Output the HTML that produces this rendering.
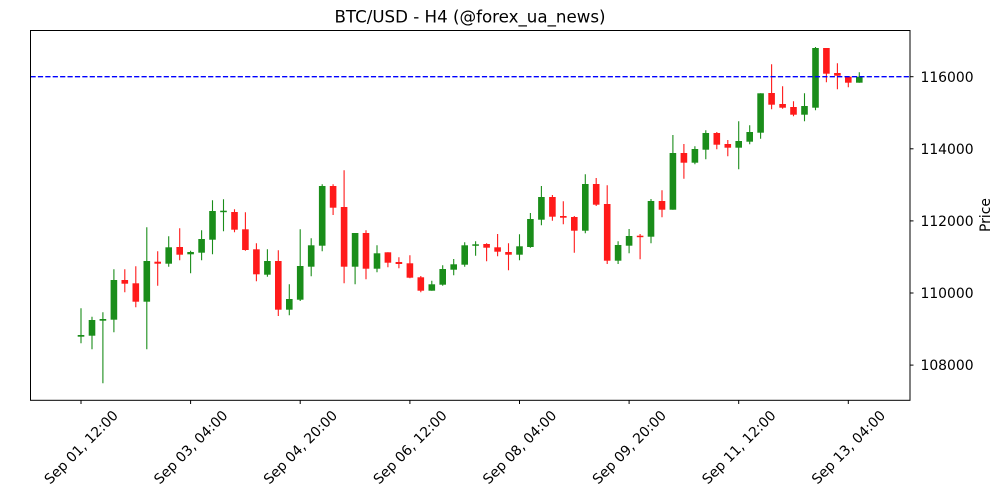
<!DOCTYPE html>
<html><head><meta charset="utf-8"><style>
html,body{margin:0;padding:0;background:#fff;}
svg{display:block;}
text{font-family:"DejaVu Sans","Liberation Sans",sans-serif;fill:#000;}
</style></head><body>
<svg width="1000" height="500" viewBox="0 0 1000 500" xmlns="http://www.w3.org/2000/svg">
<rect x="0" y="0" width="1000" height="500" fill="#fff"/>
<text x="470" y="22.5" font-size="16.67" text-anchor="middle">BTC/USD - H4 (@forex_ua_news)</text>

<!-- wicks green -->
<path stroke="#1a8d1a" stroke-width="1.1" fill="none" d="
M81.0 308.3V343.3 M92.0 316.7V349.3 M102.9 312.3V383.3 M113.9 269.3V332.3
M146.8 227.3V349.3 M168.7 236.3V266.7 M190.6 250.7V273.3 M201.6 230.3V260.3
M212.5 200.3V254.3 M223.5 199.3V231.3 M267.4 249.3V276.7 M289.3 284.3V315.3
M300.2 229.3V301 M311.2 238.3V276.3 M322.2 184.3V251.3 M355.1 233V284.3
M377.0 245.3V272.3 M431.8 280.7V290.7 M442.7 265.3V285.7 M453.7 259V275.3
M464.7 242.3V266.7 M475.6 241.3V255.7 M519.5 234.3V260.3 M530.4 213V247.7
M541.4 186V225.3 M585.3 174.3V233.3 M618.1 241.3V264 M629.1 229V253.3
M651.0 199V243.3 M672.9 135V209.7 M694.9 146.3V164.3 M705.8 130.3V159.3
M738.7 121.3V169.3 M749.7 125.3V144.3 M760.6 93.3V138.7 M804.5 93.3V121.3
M815.5 47V110.3 M859.3 72.3V82.7"/>
<!-- wicks red -->
<path stroke="#ff1a1a" stroke-width="1.1" fill="none" d="
M124.8 269.3V292.3 M135.8 266.3V307.3 M157.7 251.3V285.7 M179.7 228.3V260.3
M234.5 209.3V232.3 M245.4 212.3V250.7 M256.4 243.3V281.3 M278.3 250.3V316
M333.1 184.3V215 M344.1 170.3V283.3 M366.0 230.3V279.3 M387.9 252.3V267.3
M398.9 257.3V268.3 M409.9 255.3V278.3 M420.8 276V292.3 M486.6 243.3V261.3
M497.6 234V256.3 M508.5 243.3V270.3 M552.4 195V220.7 M563.3 201.3V224.3
M574.3 216V252.7 M596.2 178V206 M607.2 185.3V264 M640.1 234V259.3
M662.0 190.3V217.3 M683.9 144V178.7 M716.8 132V149.3 M727.8 140V156.3
M771.6 64.3V109.3 M782.6 86.3V108.7 M793.5 101.3V116.3 M826.4 48V82.3
M837.4 63.3V89.3 M848.3 76.7V87.3"/>

<!-- bodies green -->
<g fill="#1a8d1a">
<rect x="77.7" y="335" width="6.6" height="1.7"/>
<rect x="88.7" y="320" width="6.6" height="15.7"/>
<rect x="99.6" y="319" width="6.6" height="1.7"/>
<rect x="110.6" y="280" width="6.6" height="39.7"/>
<rect x="143.5" y="261" width="6.6" height="40.7"/>
<rect x="165.4" y="247.3" width="6.6" height="16.4"/>
<rect x="187.3" y="252" width="6.6" height="2.3"/>
<rect x="198.3" y="239" width="6.6" height="13.7"/>
<rect x="209.2" y="211" width="6.6" height="28.7"/>
<rect x="220.2" y="210.7" width="6.6" height="1.5"/>
<rect x="264.1" y="261" width="6.6" height="13.7"/>
<rect x="286.0" y="299" width="6.6" height="10.7"/>
<rect x="296.9" y="266" width="6.6" height="33.7"/>
<rect x="307.9" y="245.3" width="6.6" height="21.4"/>
<rect x="318.9" y="186" width="6.6" height="59.7"/>
<rect x="351.8" y="233" width="6.6" height="33.7"/>
<rect x="373.7" y="253.3" width="6.6" height="15.4"/>
<rect x="428.5" y="284.3" width="6.6" height="6.4"/>
<rect x="439.4" y="269" width="6.6" height="15.7"/>
<rect x="450.4" y="264.3" width="6.6" height="5.4"/>
<rect x="461.4" y="245.3" width="6.6" height="19.4"/>
<rect x="472.3" y="244.3" width="6.6" height="1.5"/>
<rect x="516.2" y="246.3" width="6.6" height="8.4"/>
<rect x="527.1" y="219" width="6.6" height="28"/>
<rect x="538.1" y="197" width="6.6" height="22.7"/>
<rect x="582.0" y="184" width="6.6" height="46.7"/>
<rect x="614.8" y="245" width="6.6" height="15.7"/>
<rect x="625.8" y="236" width="6.6" height="9.7"/>
<rect x="647.7" y="201" width="6.6" height="35.7"/>
<rect x="669.6" y="153" width="6.6" height="56.7"/>
<rect x="691.6" y="149" width="6.6" height="13.7"/>
<rect x="702.5" y="133" width="6.6" height="16.7"/>
<rect x="735.4" y="141" width="6.6" height="6.7"/>
<rect x="746.4" y="132" width="6.6" height="9.7"/>
<rect x="757.3" y="93.3" width="6.6" height="39.4"/>
<rect x="801.2" y="106" width="6.6" height="8.7"/>
<rect x="812.2" y="48" width="6.6" height="59.7"/>
<rect x="856.0" y="76.7" width="6.6" height="6"/>
</g>
<!-- bodies red -->
<g fill="#ff1a1a">
<rect x="121.5" y="280" width="6.6" height="3.7"/>
<rect x="132.5" y="283.3" width="6.6" height="18.4"/>
<rect x="154.4" y="261.7" width="6.6" height="2"/>
<rect x="176.4" y="247" width="6.6" height="7.7"/>
<rect x="231.2" y="212" width="6.6" height="17.7"/>
<rect x="242.1" y="229.3" width="6.6" height="20.7"/>
<rect x="253.1" y="249.3" width="6.6" height="25"/>
<rect x="275.0" y="261" width="6.6" height="48.7"/>
<rect x="329.8" y="186" width="6.6" height="21.7"/>
<rect x="340.8" y="207" width="6.6" height="59.7"/>
<rect x="362.7" y="233" width="6.6" height="35.7"/>
<rect x="384.6" y="252.3" width="6.6" height="10.4"/>
<rect x="395.6" y="262" width="6.6" height="2"/>
<rect x="406.6" y="263.3" width="6.6" height="14.4"/>
<rect x="417.5" y="277.3" width="6.6" height="13.4"/>
<rect x="483.3" y="244" width="6.6" height="3.7"/>
<rect x="494.3" y="247.3" width="6.6" height="4.4"/>
<rect x="505.2" y="252" width="6.6" height="2.7"/>
<rect x="549.1" y="197" width="6.6" height="19.7"/>
<rect x="560.0" y="216" width="6.6" height="1.7"/>
<rect x="571.0" y="217" width="6.6" height="13.7"/>
<rect x="592.9" y="184" width="6.6" height="20.7"/>
<rect x="603.9" y="204" width="6.6" height="56.7"/>
<rect x="636.8" y="235.7" width="6.6" height="1.5"/>
<rect x="658.7" y="201" width="6.6" height="8.7"/>
<rect x="680.6" y="153" width="6.6" height="9.7"/>
<rect x="713.5" y="133" width="6.6" height="11.7"/>
<rect x="724.5" y="144" width="6.6" height="3.7"/>
<rect x="768.3" y="93" width="6.6" height="11.7"/>
<rect x="779.3" y="104" width="6.6" height="3.7"/>
<rect x="790.2" y="107" width="6.6" height="7.7"/>
<rect x="823.1" y="48" width="6.6" height="25.7"/>
<rect x="834.1" y="73" width="6.6" height="2.7"/>
<rect x="845.0" y="76.7" width="6.6" height="6"/>
</g>

<!-- dashed line -->
<line x1="30.5" y1="76.7" x2="910" y2="76.7" stroke="#0000ff" stroke-width="1.4" stroke-dasharray="5.2,2.2"/>

<!-- axes frame -->
<rect x="30.5" y="30.5" width="879.5" height="369.8" fill="none" stroke="#000" stroke-width="1"/>

<!-- y ticks -->
<g stroke="#000" stroke-width="1">
<line x1="910" y1="76.7" x2="913.5" y2="76.7"/>
<line x1="910" y1="148.8" x2="913.5" y2="148.8"/>
<line x1="910" y1="220.9" x2="913.5" y2="220.9"/>
<line x1="910" y1="293" x2="913.5" y2="293"/>
<line x1="910" y1="365.1" x2="913.5" y2="365.1"/>
</g>
<g font-size="13.9">
<text x="920.5" y="81.8">116000</text>
<text x="920.5" y="153.9">114000</text>
<text x="920.5" y="226">112000</text>
<text x="920.5" y="298.1">110000</text>
<text x="920.5" y="370.2">108000</text>
</g>
<text x="990" y="215" font-size="13.9" text-anchor="middle" transform="rotate(-90 990 215)">Price</text>

<!-- x ticks -->
<g stroke="#000" stroke-width="1">
<line x1="81" y1="400" x2="81" y2="404"/>
<line x1="190.6" y1="400" x2="190.6" y2="404"/>
<line x1="300.2" y1="400" x2="300.2" y2="404"/>
<line x1="409.9" y1="400" x2="409.9" y2="404"/>
<line x1="519.5" y1="400" x2="519.5" y2="404"/>
<line x1="629.1" y1="400" x2="629.1" y2="404"/>
<line x1="738.7" y1="400" x2="738.7" y2="404"/>
<line x1="848.3" y1="400" x2="848.3" y2="404"/>
</g>
<g font-size="13.9" text-anchor="middle">
<text x="81" y="452" transform="rotate(-45 81 447)">Sep 01, 12:00</text>
<text x="190.6" y="452" transform="rotate(-45 190.6 447)">Sep 03, 04:00</text>
<text x="300.2" y="452" transform="rotate(-45 300.2 447)">Sep 04, 20:00</text>
<text x="409.9" y="452" transform="rotate(-45 409.9 447)">Sep 06, 12:00</text>
<text x="519.5" y="452" transform="rotate(-45 519.5 447)">Sep 08, 04:00</text>
<text x="629.1" y="452" transform="rotate(-45 629.1 447)">Sep 09, 20:00</text>
<text x="738.7" y="452" transform="rotate(-45 738.7 447)">Sep 11, 12:00</text>
<text x="848.3" y="452" transform="rotate(-45 848.3 447)">Sep 13, 04:00</text>
</g>
</svg>
</body></html>
